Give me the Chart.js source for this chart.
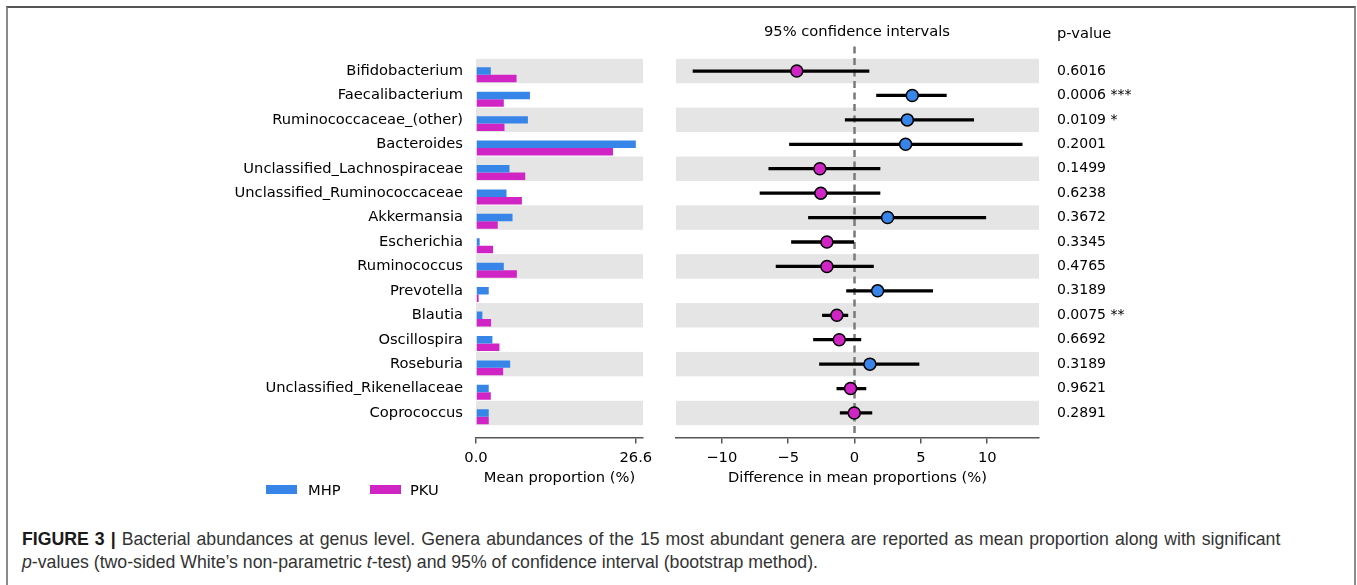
<!DOCTYPE html>
<html>
<head>
<meta charset="utf-8">
<script src="https://cdn.jsdelivr.net/npm/chart.js@4.4.0/dist/chart.umd.min.js"></script>
<style>
  body { margin: 0; background: #fff; width: 1357px; height: 585px; overflow: hidden; position: relative; font-family: 'DejaVu Sans', sans-serif; }
  #frame { position: absolute; left: 6px; top: 6px; width: 1346px; height: 600px; border-top: 2px solid #555; border-left: 2px solid #8a8a8a; border-right: 2px solid #8a8a8a; }
  canvas { position: absolute; top: 0; }
  #meanChart { left: 0; }
  #ciChart { left: 660px; }
  .txt { position: absolute; font-size: 14.7px; line-height: 18px; color: #000; white-space: nowrap; }
  #ciTitle { left: 757px; width: 200px; top: 22px; text-align: center; }
  #pTitle { left: 1057px; top: 24px; }
  .box { position: absolute; width: 31px; height: 9px; top: 485px; }
  #caption { position: absolute; left: 22px; top: 528px; font-family: 'Liberation Sans', Arial, sans-serif; font-size: 17.7px; line-height: 23px; color: #333; white-space: nowrap; }
  #caption b { color: #1a1a1a; }
  #caption .l1 { word-spacing: 1.1px; }
</style>
</head>
<body>
<div id="frame"></div>
<canvas id="meanChart" width="660" height="500"></canvas>
<canvas id="ciChart" width="697" height="500"></canvas>
<div class="txt" id="ciTitle">95% confidence intervals</div>
<div class="txt" id="pTitle">p-value</div>
<div class="box" id="mhpBox" style="left:266px"></div>
<div class="txt" style="left:308px; top:481px">MHP</div>
<div class="box" id="pkuBox" style="left:370px"></div>
<div class="txt" style="left:410px; top:481px">PKU</div>
<div id="caption"><span class="l1"><b>FIGURE 3 |</b> Bacterial abundances at genus level. Genera abundances of the 15 most abundant genera are reported as mean proportion along with significant</span><br><i>p</i>-values (two-sided White’s non-parametric <i>t</i>-test) and 95% of confidence interval (bootstrap method).</div>
<script>
// data
const genera = ['Bifidobacterium', 'Faecalibacterium', 'Ruminococcaceae_(other)', 'Bacteroides',
  'Unclassified_Lachnospiraceae', 'Unclassified_Ruminococcaceae', 'Akkermansia', 'Escherichia',
  'Ruminococcus', 'Prevotella', 'Blautia', 'Oscillospira', 'Roseburia',
  'Unclassified_Rikenellaceae', 'Coprococcus'];
const mhpMean = [2.46, 8.98, 8.64, 26.6, 5.58, 5.08, 6.08, 0.61, 4.63, 2.12, 1.06, 2.73, 5.69, 2.12, 2.12];
const pkuMean = [6.75, 4.63, 4.74, 22.8, 8.2, 7.64, 3.62, 2.84, 6.8, 0.44, 2.51, 3.9, 4.52, 2.46, 2.12];
const diffMean = [-4.35, 4.35, 3.98, 3.85, -2.61, -2.54, 2.49, -2.08, -2.08, 1.74, -1.33, -1.15, 1.16, -0.30, -0.02];
const ciLow = [-12.17, 1.66, -0.70, -4.90, -6.46, -7.12, -3.47, -4.75, -5.91, -0.60, -2.42, -3.09, -2.64, -1.33, -1.08];
const ciHigh = [1.09, 6.92, 8.98, 12.63, 1.92, 1.92, 9.89, 0.0, 1.43, 5.89, -0.50, 0.48, 4.86, 0.86, 1.31];
const pValues = [0.6016, 0.0006, 0.0109, 0.2001, 0.1499, 0.6238, 0.3672, 0.3345, 0.4765, 0.3189, 0.0075, 0.6692, 0.3189, 0.9621, 0.2891];
const diffTicks = [-10, -5, 0, 5, 10];

const MHP_COLOR = '#3785e8';
const PKU_COLOR = '#d024c5';
document.getElementById('mhpBox').style.background = MHP_COLOR;
document.getElementById('pkuBox').style.background = PKU_COLOR;

Chart.defaults.font.family = 'DejaVu Sans';
Chart.defaults.font.size = 14.7;
Chart.defaults.color = '#000';

const meanTickMax = Math.max(...mhpMean, ...pkuMean);
const rowTicks = s => { s.ticks = genera.map((g, i) => ({ value: i })); };

// alternating grey rows + optional dashed zero line
const rowBands = {
  id: 'rowBands',
  beforeDatasetsDraw(chart, args, opts) {
    const { ctx, chartArea: a, scales } = chart;
    ctx.save();
    ctx.fillStyle = '#e5e5e5';
    genera.forEach((g, i) => {
      if (i % 2) return;
      const t = scales.y.getPixelForValue(i - 0.5);
      const b = scales.y.getPixelForValue(i + 0.5);
      ctx.fillRect(a.left, t, a.right - a.left, b - t);
    });
    if (opts.zeroLine) {
      const x0 = scales.x.getPixelForValue(0);
      ctx.strokeStyle = '#7a7a7a';
      ctx.lineWidth = 2.5;
      ctx.setLineDash([7, 4.5]);
      ctx.beginPath();
      ctx.moveTo(x0, a.top);
      ctx.lineTo(x0, a.bottom);
      ctx.stroke();
    }
    ctx.restore();
  }
};

const xAxisBase = {
  type: 'linear',
  afterFit: s => { s.height = 62.6; },
  grid: { drawOnChartArea: false, drawTicks: true, tickLength: 6, color: '#555', lineWidth: 1.5 },
  border: { color: '#555', width: 1.5 },
};

// left panel: mean proportions
new Chart(document.getElementById('meanChart'), {
  type: 'bar',
  data: {
    datasets: [
      { label: '', data: genera.map((g, i) => ({ x: 0, y: i })), backgroundColor: 'rgba(0,0,0,0)' },
      { label: 'MHP', data: mhpMean.map((v, i) => ({ x: v, y: i })), backgroundColor: MHP_COLOR },
      { label: 'PKU', data: pkuMean.map((v, i) => ({ x: v, y: i })), backgroundColor: PKU_COLOR },
    ]
  },
  options: {
    indexAxis: 'y',
    responsive: false,
    animation: false,
    events: [],
    layout: { padding: { left: 0, top: 46.6, right: 17, bottom: 0 } },
    datasets: { bar: { barPercentage: 1, categoryPercentage: 0.92, borderWidth: 0 } },
    plugins: { legend: { display: false }, tooltip: { enabled: false }, rowBands: { zeroLine: false } },
    scales: {
      x: Object.assign({}, xAxisBase, {
        min: 0, max: meanTickMax * 1.045,
        afterBuildTicks: s => { s.ticks = [{ value: 0 }, { value: meanTickMax }]; },
        ticks: { padding: 6, maxRotation: 0, callback: v => v.toFixed(1) },
        title: { display: true, text: 'Mean proportion (%)', padding: { top: 0, bottom: 13 } }
      }),
      y: {
        type: 'linear', min: -1, max: 15, reverse: true, offset: false,
        afterBuildTicks: rowTicks,
        afterFit: s => { s.width = 476; },
        grid: { display: false, drawTicks: false, offset: false },
        border: { display: false },
        ticks: { padding: 13, autoSkip: false, callback: v => genera[v] }
      }
    }
  },
  plugins: [rowBands]
});

// right panel: difference with 95% CI and p-values
const stars = p => p < 0.001 ? ' ***' : p < 0.01 ? ' **' : p < 0.05 ? ' *' : '';

new Chart(document.getElementById('ciChart'), {
  type: 'bar',
  data: {
    datasets: [
      {
        type: 'scatter', label: 'diff', order: 1,
        data: diffMean.map((v, i) => ({ x: v, y: i })),
        pointRadius: 6,
        pointBackgroundColor: c => diffMean[c.dataIndex] > 0 ? MHP_COLOR : PKU_COLOR,
        pointBorderColor: '#000', pointBorderWidth: 1.5
      },
      {
        type: 'bar', label: 'ci', order: 2,
        data: ciLow.map((lo, i) => ({ x: [lo, ciHigh[i]], y: i })),
        backgroundColor: '#000', barThickness: 2.6, borderWidth: 0
      }
    ]
  },
  options: {
    indexAxis: 'y',
    responsive: false,
    animation: false,
    events: [],
    layout: { padding: { left: 16, top: 46.6, right: 0, bottom: 0 } },
    plugins: { legend: { display: false }, tooltip: { enabled: false }, rowBands: { zeroLine: true } },
    scales: {
      x: Object.assign({}, xAxisBase, {
        min: -13.45, max: 13.9,
        afterBuildTicks: s => { s.ticks = diffTicks.map(v => ({ value: v })); },
        ticks: { padding: 6, maxRotation: 0, callback: v => String(v).replace('-', '\u2212') },
        title: { display: true, text: 'Difference in mean proportions (%)', padding: { top: 0, bottom: 13 } }
      }),
      y: { type: 'linear', min: -1, max: 15, reverse: true, offset: false, grid: { offset: false }, display: false },
      p: {
        type: 'linear', position: 'right', min: -1, max: 15, reverse: true, offset: false,
        afterBuildTicks: rowTicks,
        afterFit: s => { s.width = 318; },
        grid: { display: false, drawTicks: false, offset: false },
        border: { display: false },
        ticks: { padding: 18, autoSkip: false, font: { size: 14 }, callback: v => pValues[v].toFixed(4) + stars(pValues[v]) }
      }
    }
  },
  plugins: [rowBands]
});
</script>
</body>
</html>
